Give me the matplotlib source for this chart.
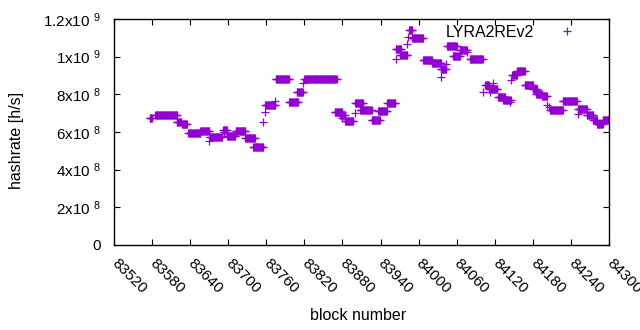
import numpy as np
import matplotlib
matplotlib.use("Agg")
from matplotlib import pyplot as plt
from matplotlib.ticker import FuncFormatter, MultipleLocator

# plateaus: hashrate stays constant over a run of blocks
seg_start = [83576, 83585, 83619, 83627, 83637, 83656, 83671, 83692, 83698, 83712,
             83727, 83739, 83758, 83775, 83796, 83808, 83820, 83868, 83876, 83884,
             83900, 83908, 83926, 83936, 83950, 83964, 83971, 83985, 83990, 84007,
             84021, 84035, 84045, 84054, 84065, 84081, 84105, 84111, 84125, 84133,
             84147, 84155, 84167, 84180, 84185, 84194, 84207, 84227, 84251, 84265,
             84275, 84281, 84290]
seg_end = [83580, 83619, 83626, 83635, 83656, 83670, 83690, 83698, 83711, 83727,
           83742, 83755, 83774, 83796, 83810, 83818, 83871, 83879, 83884, 83897,
           83912, 83926, 83939, 83950, 83963, 83972, 83982, 83990, 84007, 84021,
           84035, 84043, 84060, 84065, 84076, 84101, 84111, 84124, 84136, 84145,
           84155, 84167, 84180, 84186, 84194, 84202, 84227, 84249, 84265, 84275,
           84281, 84290, 84300]
seg_hashrate = [6.75e8, 6.9e8, 6.55e8, 6.45e8, 5.95e8, 6.05e8, 5.73e8, 6.1e8, 5.8e8, 6.05e8,
                5.7e8, 5.18e8, 7.45e8, 8.84e8, 7.6e8, 8.12e8, 8.79e8, 7.06e8, 6.9e8, 6.61e8,
                7.52e8, 7.17e8, 6.66e8, 7.14e8, 7.55e8, 1.043e9, 1.009e9, 1.142e9, 1.097e9, 9.82e8,
                9.69e8, 9.35e8, 1.057e9, 1.006e9, 1.038e9, 9.9e8, 8.52e8, 8.27e8, 7.86e8, 7.72e8,
                9.05e8, 9.24e8, 8.5e8, 8.26e8, 8.02e8, 7.91e8, 7.17e8, 7.62e8, 7.22e8, 6.9e8,
                6.64e8, 6.45e8, 6.66e8]

# single blocks away from the plateaus
iso_block = [83670, 83693, 83754, 83758, 83774, 83818, 83880, 83900, 83964, 83982,
             83983, 84035, 84043, 84077, 84101, 84112, 84117, 84144, 84146, 84203,
             84205, 84251]
iso_hashrate = [5.54e8, 6.0e8, 6.55e8, 7.08e8, 7.66e8, 8.6e8, 6.74e8, 7.0e8, 9.86e8, 1.067e9,
                1.106e9, 8.9e8, 9.6e8, 1.027e9, 8.1e8, 8.1e8, 8.59e8, 7.6e8, 8.76e8, 7.43e8,
                7.33e8, 6.96e8]

blocks = []
rates = []
for s, e, h in zip(seg_start, seg_end, seg_hashrate):
    for b in range(s, e + 1):
        blocks.append(b)
        rates.append(h)
blocks += iso_block
rates += iso_hashrate

plt.rcParams['font.family'] = ['Liberation Sans', 'DejaVu Sans']
plt.rcParams['mathtext.default'] = 'regular'

fig = plt.figure(figsize=(6.4, 3.3), dpi=100)
ax = fig.add_axes([114 / 640, 1 - 245 / 330, 495 / 640, 226 / 330])

ax.plot(blocks, rates, linestyle='none', marker='+', markersize=5.5,
        markeredgewidth=0.9, color='#9400D3', label='LYRA2REv2')

ax.set_xlim(83520, 84300)
ax.set_ylim(0, 1.2e9)
ax.xaxis.set_major_locator(MultipleLocator(60))
ax.yaxis.set_major_locator(MultipleLocator(2e8))


def sci(v, pos):
    if v < 1:
        return '0' if abs(v) < 1 else ''
    exp = int(np.floor(np.log10(v) + 1e-9))
    mant = round(v / 10**exp, 3)
    m = f"{mant:g}"
    return m + 'x10 $^{' + str(exp) + '}$'


ax.yaxis.set_major_formatter(FuncFormatter(sci))
ax.tick_params(direction='in', length=4, width=0.8, top=True, right=True,
               labelsize=11, colors='black')
ax.tick_params(axis='y', pad=9.5)
ax.tick_params(axis='x', pad=12)
plt.setp(ax.get_xticklabels(), rotation=-45, ha='left', va='center',
         rotation_mode='anchor')

for sp in ax.spines.values():
    sp.set_linewidth(1.0)

ax.set_xlabel('block number', fontsize=11.5, va='center')
ax.xaxis.set_label_coords((358 - 114) / 495, (245 - 316) / 226)
ax.set_ylabel('hashrate [h/s]', fontsize=11.5, va='center')
ax.yaxis.set_label_coords((17 - 114) / 495, (245 - 140) / 226)

ax.legend(loc='upper right', frameon=False, markerfirst=False, fontsize=11.5,
          handletextpad=0.8, handlelength=2.5, borderpad=0, borderaxespad=0,
          markerscale=1.0, bbox_to_anchor=(587 / 640, 1 - 25 / 330),
          bbox_transform=fig.transFigure)

fig.savefig('out.png', dpi=100)
